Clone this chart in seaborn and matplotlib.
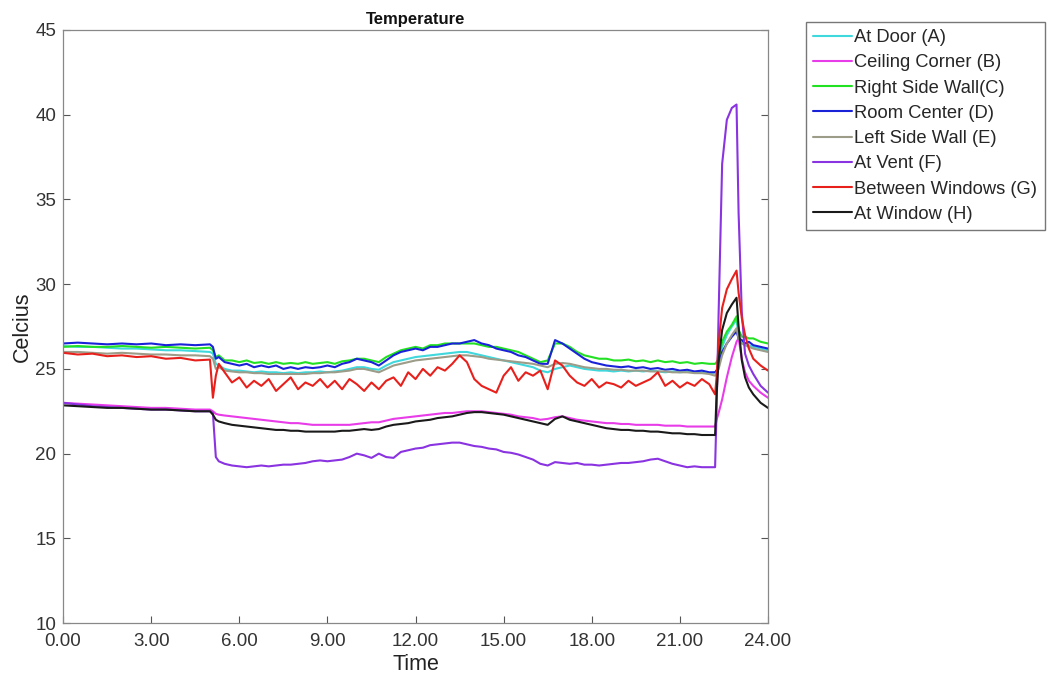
import matplotlib
matplotlib.use("Agg")
import matplotlib.pyplot as plt
import seaborn as sns
import pandas as pd
from matplotlib.ticker import FormatStrFormatter

# ---- data (hours, degrees Celsius) ----
time_h = [0.0, 0.5, 1.0, 1.5, 2.0, 2.5, 3.0, 3.5, 4.0, 4.5, 5.0,
          5.1, 5.2, 5.3, 5.5,
          5.75, 6.0, 6.25, 6.5, 6.75, 7.0, 7.25, 7.5,
          7.75, 8.0, 8.25, 8.5, 8.75, 9.0, 9.25, 9.5,
          9.75, 10.0, 10.25, 10.5, 10.75, 11.0, 11.25, 11.5,
          11.75, 12.0, 12.25, 12.5, 12.75, 13.0, 13.25, 13.5,
          13.75, 14.0, 14.25, 14.5, 14.75, 15.0, 15.25, 15.5,
          15.75, 16.0, 16.25, 16.5, 16.75, 17.0, 17.25, 17.5,
          17.75, 18.0, 18.25, 18.5, 18.75, 19.0, 19.25, 19.5,
          19.75, 20.0, 20.25, 20.5, 20.75, 21.0, 21.25, 21.5,
          21.75, 22.0,
          22.2, 22.25, 22.32, 22.44, 22.6, 22.77, 22.93, 23.0, 23.11, 23.22, 23.35, 23.5, 23.75, 24.0]

at_door_A = [26.35, 26.3, 26.3, 26.25, 26.2, 26.2, 26.15, 26.1, 26.1, 26.05, 26.0,
             25.9, 25.3, 25.2, 25.0,
             24.9, 24.9, 24.85, 24.8, 24.85, 24.8, 24.8, 24.75,
             24.8, 24.75, 24.8, 24.8, 24.85, 24.8, 24.85, 24.9,
             25.0, 25.1, 25.1, 25.0, 24.95, 25.2, 25.4, 25.5,
             25.6, 25.7, 25.75, 25.8, 25.85, 25.9, 25.95, 26.0,
             26.0, 25.9, 25.8, 25.7, 25.6, 25.5, 25.4, 25.3,
             25.2, 25.1, 24.9, 24.8, 25.0, 25.1, 25.2, 25.1,
             25.0, 24.95, 24.9, 24.9, 24.85, 24.9, 24.85, 24.9,
             24.85, 24.9, 24.85, 24.8, 24.85, 24.8, 24.85, 24.8,
             24.8, 24.75,
             24.8, 24.9, 25.2, 26.3, 27.0, 27.5, 27.9, 26.9, 26.6, 26.5, 26.4, 26.3, 26.2, 26.1]

ceiling_corner_B = [23.0, 22.95, 22.9, 22.85, 22.8, 22.75, 22.7, 22.7, 22.65, 22.6, 22.6,
                    22.5, 22.35, 22.3, 22.25,
                    22.2, 22.15, 22.1, 22.05, 22.0, 21.95, 21.9, 21.85,
                    21.8, 21.8, 21.75, 21.7, 21.7, 21.7, 21.7, 21.7,
                    21.7, 21.75, 21.8, 21.85, 21.85, 21.95, 22.05, 22.1,
                    22.15, 22.2, 22.25, 22.3, 22.35, 22.4, 22.4, 22.45,
                    22.5, 22.5, 22.5, 22.45, 22.4, 22.35, 22.3, 22.2,
                    22.15, 22.1, 22.0, 22.05, 22.15, 22.2, 22.1, 22.0,
                    21.95, 21.9, 21.85, 21.8, 21.8, 21.75, 21.75, 21.7,
                    21.7, 21.7, 21.7, 21.65, 21.65, 21.65, 21.6, 21.6,
                    21.6, 21.6,
                    21.6, 22.0, 22.4, 23.2, 24.5, 25.7, 26.6, 26.8, 25.6, 24.8, 24.3, 24.0, 23.6, 23.3]

right_wall_C = [26.3, 26.35, 26.3, 26.3, 26.35, 26.3, 26.25, 26.3, 26.25, 26.2, 26.25,
                26.1, 25.7, 25.8, 25.5,
                25.5, 25.4, 25.5, 25.35, 25.4, 25.3, 25.4, 25.3,
                25.35, 25.3, 25.4, 25.3, 25.35, 25.4, 25.3, 25.45,
                25.5, 25.6, 25.6, 25.5, 25.4, 25.7, 25.9, 26.1,
                26.2, 26.3, 26.2, 26.4, 26.4, 26.5, 26.5, 26.5,
                26.5, 26.5, 26.4, 26.3, 26.3, 26.2, 26.1, 26.0,
                25.8, 25.6, 25.4, 25.5, 26.5, 26.5, 26.3, 26.0,
                25.8, 25.7, 25.6, 25.6, 25.5, 25.5, 25.55, 25.45,
                25.5, 25.4, 25.5, 25.4, 25.45, 25.35, 25.4, 25.3,
                25.35, 25.3,
                25.3, 25.4, 25.6, 26.6, 27.2, 27.6, 28.1, 27.3, 26.9, 26.9, 26.8, 26.8, 26.6, 26.5]

room_center_D = [26.5, 26.55, 26.5, 26.45, 26.5, 26.45, 26.5, 26.4, 26.45, 26.4, 26.45,
                 26.3, 25.6, 25.7, 25.4,
                 25.3, 25.2, 25.3, 25.1, 25.2, 25.1, 25.2, 25.0,
                 25.1, 25.0, 25.1, 25.05, 25.1, 25.2, 25.1, 25.3,
                 25.4, 25.6, 25.5, 25.4, 25.2, 25.5, 25.8, 26.0,
                 26.1, 26.2, 26.1, 26.3, 26.3, 26.4, 26.5, 26.5,
                 26.6, 26.7, 26.5, 26.4, 26.2, 26.1, 26.0, 25.8,
                 25.7, 25.5, 25.3, 25.3, 26.7, 26.5, 26.2, 25.9,
                 25.6, 25.4, 25.3, 25.2, 25.15, 25.1, 25.15, 25.05,
                 25.1, 25.0, 25.05, 24.95, 25.0, 24.9, 24.95, 24.85,
                 24.9, 24.8,
                 24.8, 24.9, 25.3, 26.0, 26.5, 26.9, 27.2, 26.8, 26.7, 26.5, 26.6, 26.4, 26.3, 26.2]

left_wall_E = [26.0, 26.0, 25.95, 25.9, 25.95, 25.9, 25.85, 25.85, 25.8, 25.8, 25.75,
               25.6, 25.0, 25.1, 24.9,
               24.85, 24.8, 24.8, 24.75, 24.75, 24.7, 24.7, 24.7,
               24.7, 24.7, 24.7, 24.75, 24.75, 24.8, 24.8, 24.85,
               24.9, 25.0, 25.0, 24.9, 24.8, 25.0, 25.2, 25.3,
               25.4, 25.5, 25.55, 25.6, 25.65, 25.7, 25.75, 25.8,
               25.8, 25.75, 25.7, 25.6, 25.55, 25.5, 25.45, 25.4,
               25.35, 25.3, 25.2, 25.1, 25.3, 25.35, 25.3, 25.2,
               25.1, 25.05, 25.0, 25.0, 24.95, 24.95, 24.9, 24.9,
               24.9, 24.85, 24.85, 24.85, 24.8, 24.8, 24.8, 24.75,
               24.75, 24.7,
               24.6, 24.8, 25.0, 25.8, 26.5, 27.0, 27.4, 26.8, 26.5, 26.4, 26.3, 26.2, 26.1, 26.0]

at_vent_F = [23.0, 22.9, 22.8, 22.75, 22.7, 22.65, 22.6, 22.6, 22.55, 22.5, 22.5,
             22.4, 19.8, 19.55, 19.4,
             19.3, 19.25, 19.2, 19.25, 19.3, 19.25, 19.3, 19.35,
             19.35, 19.4, 19.45, 19.55, 19.6, 19.55, 19.6, 19.65,
             19.8, 20.0, 19.9, 19.75, 20.0, 19.8, 19.75, 20.1,
             20.2, 20.3, 20.35, 20.5, 20.55, 20.6, 20.65, 20.65,
             20.55, 20.45, 20.4, 20.3, 20.25, 20.1, 20.05, 19.95,
             19.8, 19.65, 19.4, 19.3, 19.5, 19.45, 19.4, 19.45,
             19.35, 19.35, 19.3, 19.35, 19.4, 19.45, 19.45, 19.5,
             19.55, 19.65, 19.7, 19.55, 19.4, 19.3, 19.2, 19.25,
             19.2, 19.2,
             19.2, 22.5, 28.3, 37.1, 39.7, 40.4, 40.6, 34.2, 28.3, 25.9, 25.2, 24.7, 24.0, 23.6]

between_windows_G = [25.95, 25.85, 25.9, 25.75, 25.8, 25.7, 25.75, 25.6, 25.65, 25.5, 25.55,
                     23.3, 24.6, 25.3, 24.8,
                     24.2, 24.5, 23.9, 24.3, 24.0, 24.4, 23.7, 24.1,
                     24.5, 23.8, 24.2, 24.0, 24.4, 23.9, 24.3, 23.8,
                     24.4, 24.1, 23.7, 24.2, 23.8, 24.3, 24.5, 24.0,
                     24.8, 24.4, 25.0, 24.6, 25.1, 24.9, 25.3, 25.8,
                     25.4, 24.4, 24.0, 23.8, 23.6, 24.6, 25.1, 24.3,
                     24.8, 24.6, 24.9, 23.8, 25.5, 25.2, 24.6, 24.2,
                     24.0, 24.4, 23.9, 24.2, 24.1, 23.9, 24.3, 24.0,
                     24.2, 24.4, 24.8, 24.0, 24.3, 23.9, 24.2, 24.0,
                     24.4, 24.1,
                     23.5, 24.5, 26.5, 28.6, 29.7, 30.3, 30.8, 29.5, 28.0, 27.0, 26.2, 25.6, 25.2, 24.9]

at_window_H = [22.85, 22.8, 22.75, 22.7, 22.7, 22.65, 22.6, 22.6, 22.55, 22.5, 22.5,
               22.3, 22.0, 21.9, 21.8,
               21.7, 21.65, 21.6, 21.55, 21.5, 21.45, 21.4, 21.4,
               21.35, 21.35, 21.3, 21.3, 21.3, 21.3, 21.3, 21.35,
               21.35, 21.4, 21.45, 21.4, 21.45, 21.6, 21.7, 21.75,
               21.8, 21.9, 21.95, 22.0, 22.1, 22.15, 22.2, 22.3,
               22.4, 22.45, 22.45, 22.4, 22.35, 22.3, 22.2, 22.1,
               22.0, 21.9, 21.8, 21.7, 22.05, 22.2, 22.0, 21.9,
               21.8, 21.7, 21.6, 21.5, 21.45, 21.4, 21.4, 21.35,
               21.35, 21.3, 21.3, 21.25, 21.2, 21.2, 21.15, 21.15,
               21.1, 21.1,
               21.1, 23.5, 25.5, 27.3, 28.3, 28.8, 29.2, 27.5, 25.5, 24.5, 23.9, 23.5, 23.0, 22.7]

series_names = ["At Door (A)", "Ceiling Corner (B)", "Right Side Wall(C)", "Room Center (D)",
                "Left Side Wall (E)", "At Vent (F)", "Between Windows (G)", "At Window (H)"]
series_values = [at_door_A, ceiling_corner_B, right_wall_C, room_center_D,
                 left_wall_E, at_vent_F, between_windows_G, at_window_H]
series_colors = ["#3fd8dc", "#e83ce8", "#22e022", "#1a22d8",
                 "#9c9c88", "#8a33e0", "#e8201c", "#1a1a1a"]
x_ticks = [0, 3, 6, 9, 12, 15, 18, 21, 24]
y_ticks = [10, 15, 20, 25, 30, 35, 40, 45]

# ---- long-format table ----
frames = []
for name, vals in zip(series_names, series_values):
    frames.append(pd.DataFrame({"Time": time_h, "Celcius": vals, "Sensor": name}))
df = pd.concat(frames, ignore_index=True)

sns.set_style("white")
plt.rcParams["font.family"] = ["Liberation Sans", "DejaVu Sans"]

fig = plt.figure(figsize=(10.52, 6.81), dpi=100)
ax = fig.add_axes([0.060, 0.085, 0.670, 0.871])

sns.lineplot(data=df, x="Time", y="Celcius", hue="Sensor", hue_order=series_names,
             palette=dict(zip(series_names, series_colors)), estimator=None,
             sort=False, linewidth=1.5, ax=ax, legend=True)

ax.set_xlim(0, 24)
ax.set_ylim(10, 45)
ax.set_xticks(x_ticks)
ax.set_yticks(y_ticks)
ax.xaxis.set_major_formatter(FormatStrFormatter("%.2f"))
ax.tick_params(direction="in", length=5, width=0.8, colors="#555555",
               labelcolor="#333333", labelsize=13.5, top=False, right=False,
               bottom=True, left=True)
ax.tick_params(axis="x", pad=7)
ax.tick_params(axis="y", right=True, pad=5)
for sp in ax.spines.values():
    sp.set_color("#888888")
    sp.set_linewidth(0.9)
    sp.set_visible(True)

ax.set_xlabel("Time", fontsize=15.5, color="#222222", labelpad=3)
ax.set_ylabel("Celcius", fontsize=15.5, color="#222222", labelpad=2)
ax.set_title("Temperature", fontsize=12, fontweight="bold", color="#111111", pad=4)

handles, labels = ax.get_legend_handles_labels()
ax.legend(handles, labels, loc="upper left",
          bbox_to_anchor=(0.766, 0.968), bbox_transform=fig.transFigure,
          frameon=True, fancybox=False, edgecolor="#777777", framealpha=1,
          fontsize=13.2, handlelength=2.1, handletextpad=0.15,
          labelspacing=0.45, borderpad=0.4, borderaxespad=0)

fig.savefig("out.png", dpi=100)
